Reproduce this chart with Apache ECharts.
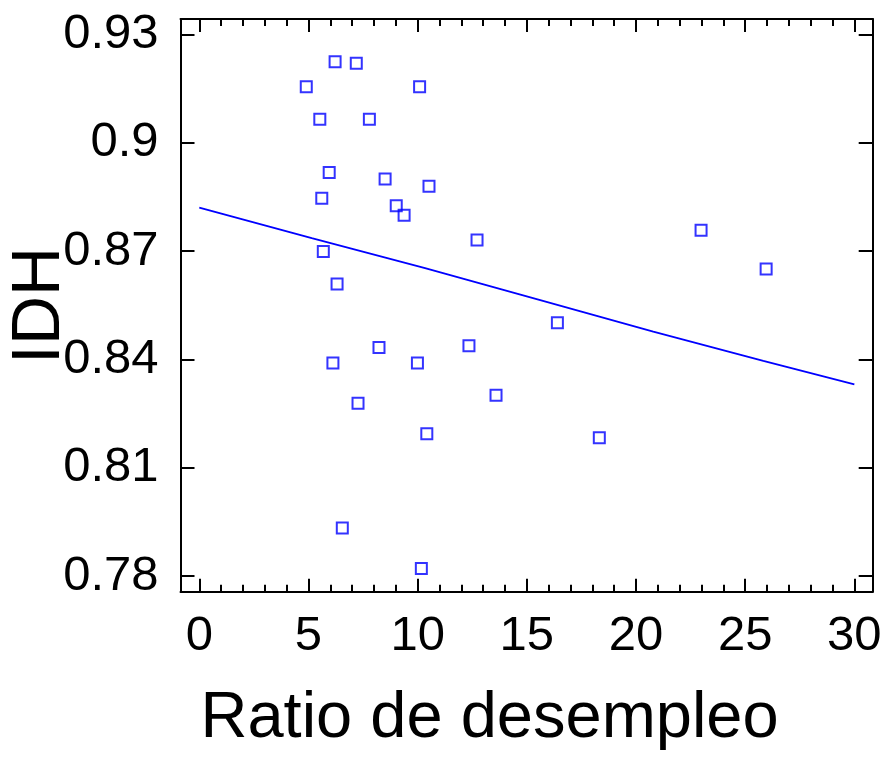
<!DOCTYPE html>
<html>
<head>
<meta charset="utf-8">
<script src="https://cdn.jsdelivr.net/npm/echarts@6/dist/echarts.min.js"></script>
<style>html,body{margin:0;padding:0;background:#fff}#c{width:882px;height:758px}</style>
</head>
<body>
<div id="c"></div>
<script>
// Data: unemployment ratio (x) vs HDI / IDH (y)
const ratio = [4.90, 6.22, 7.19, 10.09, 5.52, 7.79, 5.95, 8.51, 10.52, 5.61, 9.02, 9.38, 12.72, 5.68, 6.31,
               6.12, 8.23, 9.99, 12.35, 7.27, 13.59, 10.42, 6.55, 10.17, 16.40, 18.32, 22.98, 25.96];
const idh   = [0.9156, 0.9225, 0.9221, 0.9156, 0.9066, 0.9066, 0.8918, 0.8900, 0.8880, 0.8847, 0.8826, 0.8800, 0.8731, 0.8699, 0.8609,
               0.8390, 0.8433, 0.8390, 0.8438, 0.8279, 0.8301, 0.8194, 0.7933, 0.7821, 0.8502, 0.8183, 0.8758, 0.8651];
// Fitted curve
const fitX = [0, 5.15, 10.34, 15.45, 20.79, 25.83, 30];
const fitY = [0.8821, 0.8736, 0.8653, 0.8567, 0.8477, 0.8396, 0.8331];
// Tick values
const xMajor = [0, 5, 10, 15, 20, 25, 30];
const xMinor = [1,2,3,4,6,7,8,9,11,12,13,14,16,17,18,19,21,22,23,24,26,27,28,29];
const yMajor = [0.78, 0.81, 0.84, 0.87, 0.90, 0.93];
const yLabels = ['0.78', '0.81', '0.84', '0.87', '0.9', '0.93'];

const xMin = -0.86, xMax = 30.84, yMin = 0.77565, yMax = 0.93435;
const FONT = '"Liberation Sans", Arial, sans-serif';
const lineStyle = { color: '#000', width: 2 };

const pts = ratio.map((v, i) => [v, idh[i]]);
const fit = fitX.map((v, i) => [v, fitY[i]]);

function xAx(pos, ticks, len, showLine, showLabel) {
  return {
    type: 'value', position: pos, min: xMin, max: xMax,
    axisLine: { show: showLine, onZero: false, lineStyle: lineStyle },
    axisTick: { show: true, inside: true, length: len, customValues: ticks, lineStyle: { color: '#000', width: 2 } },
    axisLabel: showLabel ? { show: true, customValues: xMajor, margin: 20, fontSize: 49, fontFamily: FONT, color: '#000' } : { show: false },
    splitLine: { show: false }
  };
}
function yAx(pos, showLabel) {
  return {
    type: 'value', position: pos, min: yMin, max: yMax,
    axisLine: { show: true, onZero: false, lineStyle: lineStyle },
    axisTick: { show: true, inside: true, length: 14, customValues: yMajor, lineStyle: { color: '#000', width: 2 } },
    axisLabel: showLabel ? {
      show: true, customValues: yMajor, margin: 22, fontSize: 49, fontFamily: FONT, color: '#000',
      formatter: function (v) { const i = yMajor.findIndex(t => Math.abs(t - v) < 1e-6); return i >= 0 ? yLabels[i] : ''; }
    } : { show: false },
    splitLine: { show: false }
  };
}

const xa0 = xAx('bottom', xMajor, 13, true, true);
xa0.name = 'Ratio de desempleo';
xa0.nameLocation = 'middle';
xa0.nameGap = 95;
xa0.nameMoveOverlap = false;
xa0.nameTextStyle = { fontSize: 65, fontFamily: FONT, color: '#000', padding: [0, 74, 0, 0] };

const ya0 = yAx('left', true);
ya0.name = 'IDH';
ya0.nameLocation = 'middle';
ya0.nameGap = 106;
ya0.nameMoveOverlap = false;
ya0.nameTextStyle = { fontSize: 68, fontFamily: FONT, color: '#000' };

const chart = echarts.init(document.getElementById('c'), null, { renderer: 'canvas' });
chart.setOption({
  animation: false,
  backgroundColor: '#fff',
  grid: { left: 180.5, right: 9.3, top: 19, bottom: 166.3, containLabel: false, outerBoundsMode: 'none' },
  xAxis: [
    xa0,
    xAx('bottom', xMinor, 7, false, false),
    xAx('top', xMajor, 13, true, false),
    xAx('top', xMinor, 7, false, false)
  ],
  yAxis: [ya0, yAx('right', false)],
  series: [
    {
      type: 'line', data: fit, xAxisIndex: 0, yAxisIndex: 0, showSymbol: false, symbol: 'none',
      lineStyle: { color: '#0000ff', width: 1.8 }, z: 2
    },
    {
      type: 'scatter', data: pts, xAxisIndex: 0, yAxisIndex: 0, symbol: 'rect', symbolSize: 11,
      itemStyle: { color: 'rgba(0,0,0,0)', borderColor: '#0000ff', borderWidth: 2 }, z: 3
    }
  ]
});
</script>
</body>
</html>
